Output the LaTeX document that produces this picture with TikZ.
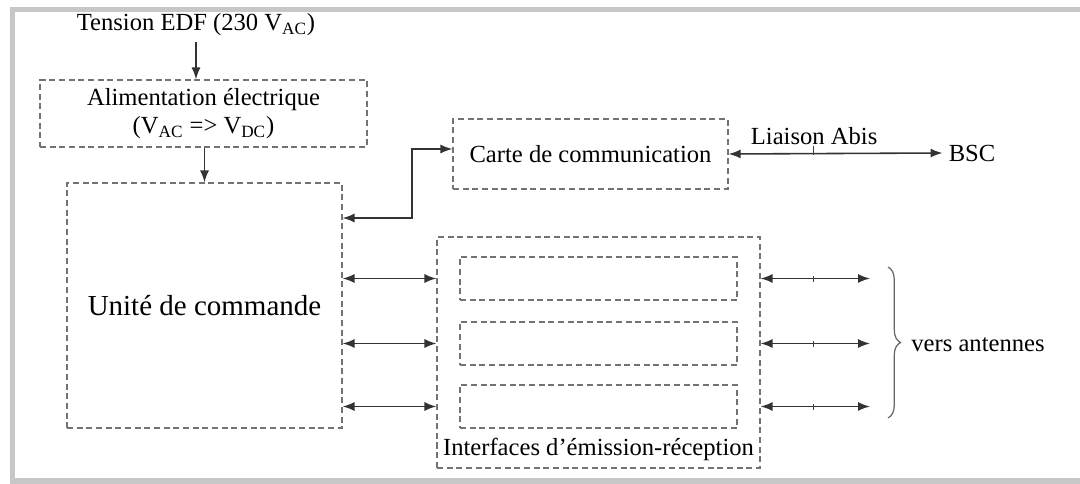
\documentclass[tikz,border=0pt]{standalone}
\usepackage{fontspec}
\setmainfont{Liberation Serif}
\usetikzlibrary{arrows.meta, calc, decorations.pathreplacing}

\begin{document}
\begin{tikzpicture}[>={Latex[length=2.4mm, width=1.8mm]}, every node/.style={font=\fontsize{14}{16}\selectfont},
  dashBox/.style={draw=black!55, dash pattern=on 3.5pt off 2pt, line width=0.6pt, inner sep=0pt, align=center},
  flowArrow/.style={->, draw=black!80, line width=0.9pt},
  linkArrow/.style={<->, draw=black!80, line width=0.9pt}]
  \useasboundingbox (0,0) rectangle (21.6,-9.68);
  % cadre
  \draw[black!22, line width=0.11cm] (21.75,-0.19) -- (0.25,-0.19) -- (0.25,-9.62) -- (21.75,-9.62);
  % alimentation et commande
  \node (tension) at (3.92,-0.5) {Tension EDF (230 V\textsubscript{AC})};
  \node[dashBox, minimum width=6.54cm, minimum height=1.34cm] (alim) at (4.07,-2.27) {Alimentation électrique\\(V\textsubscript{AC} => V\textsubscript{DC})};
  \node[dashBox, minimum width=5.5cm, minimum height=4.9cm, font=\fontsize{16.5}{18}\selectfont] (unite) at (4.09,-6.11) {Unité de commande};
  \draw[flowArrow] (tension) -- (tension |- alim.north);
  \draw[flowArrow] (alim.south -| unite.north) -- (unite.north);
  % liaison vers le BSC
  \node[dashBox, minimum width=5.5cm, minimum height=1.4cm] (carte) at (11.81,-3.08) {Carte de communication};
  \node (bsc) at (19.44,-3.06) {BSC};
  \draw[linkArrow] (carte.east) -- (bsc.west) node[pos=0.4, above=1pt] {Liaison Abis};
  \draw[black!75, line width=0.5pt] (16.26,-2.93) -- (16.26,-3.1);
  \coordinate (bend) at (8.24,-4.36);
  \draw[linkArrow] (unite.east |- bend) -- (bend) |- ($(carte.west)+(0,0.1)$);
  % interfaces d'emission-reception
  \node[dashBox, minimum width=6.46cm, minimum height=4.62cm] (interf) at (11.97,-7.05) {};
  \node[above=1pt] (interfLabel) at (interf.south) {Interfaces d’émission-réception};
  \foreach \i/\y in {1/-5.57, 2/-6.87, 3/-8.13} {
    \node[dashBox, minimum width=5.54cm, minimum height=0.86cm] (voie\i) at (11.97,\y) {};
    \coordinate (ant\i) at (17.4,\y);
    \draw[linkArrow] (unite.east |- voie\i) -- (interf.west |- voie\i);
    \draw[linkArrow] (interf.east |- voie\i) -- (ant\i);
    \draw[black!75, line width=0.5pt] ($(ant\i)+(-1.14,0.06)$) -- ++(0,-0.12);
  }
  \draw[decorate, decoration={brace, amplitude=0.25cm}, black!60, line width=0.7pt] (17.76,-5.34) -- (17.76,-8.36);
  \node (antennes) at (19.56,-6.9) {vers antennes};
\end{tikzpicture}
\end{document}
